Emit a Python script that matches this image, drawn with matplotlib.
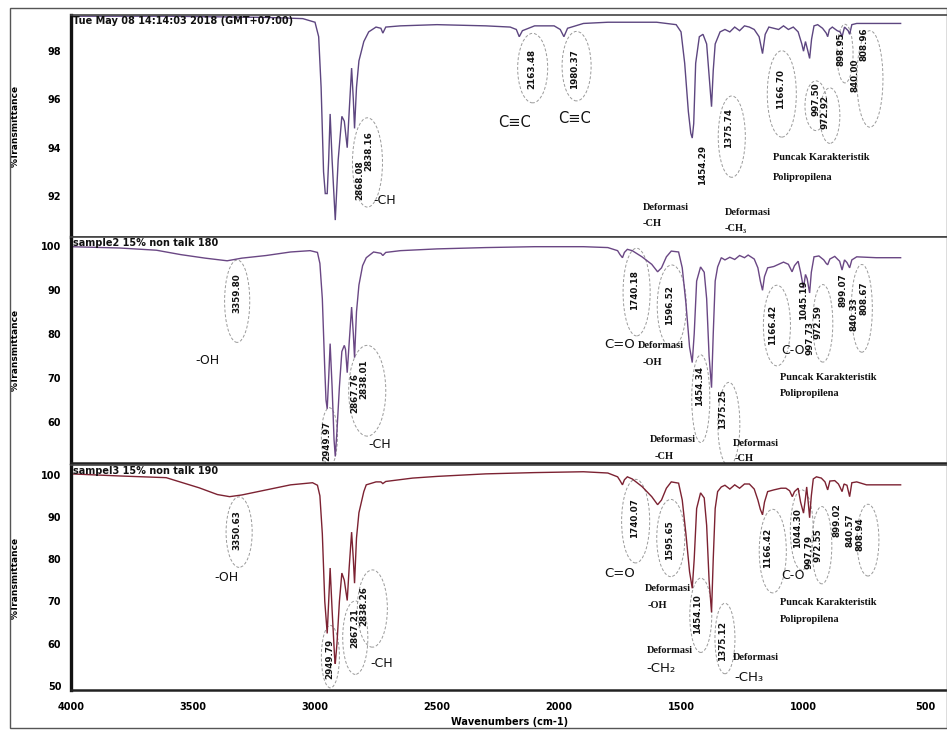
import matplotlib
matplotlib.use("Agg")
import matplotlib.pyplot as plt
from matplotlib.patches import Ellipse, Rectangle

# ---------------- data ----------------
top_wn = [4000, 3600, 3200, 3050, 3000, 2985, 2975, 2965, 2958, 2950, 2944, 2938, 2930, 2917, 2905,
          2890, 2880, 2868, 2860, 2850, 2843, 2838, 2830, 2820, 2800, 2780, 2750, 2730, 2722, 2710,
          2650, 2500, 2300, 2200, 2175, 2163, 2150, 2100, 2020, 1995, 1980, 1965, 1900, 1800, 1700,
          1600, 1520, 1500, 1485, 1470, 1460, 1454, 1448, 1440, 1425, 1410, 1395, 1385, 1375, 1368,
          1360, 1340, 1320, 1300, 1280, 1260, 1240, 1220, 1200, 1180, 1166, 1155, 1140, 1100, 1080,
          1060, 1040, 1020, 1005, 998, 990, 980, 973, 965, 955, 940, 920, 905, 899, 892,
          880, 860, 848, 840, 830, 815, 809, 800, 780, 700, 600]
top_T = [99.45, 99.45, 99.4, 99.35, 99.2, 98.6, 96.5, 93.0, 92.1, 92.1, 93.5, 95.4, 93.5, 91.0, 93.5,
         95.3, 95.1, 94.0, 95.5, 97.3, 96.0, 94.8, 96.5, 97.6, 98.4, 98.8, 99.0, 98.95, 98.75, 99.0,
         99.05, 99.1, 99.05, 99.0, 98.9, 98.6, 98.85, 99.05, 99.05, 98.9, 98.6, 98.95, 99.15, 99.2, 99.2,
         99.2, 99.1, 98.8, 97.5, 95.5, 94.6, 94.4, 95.0, 97.5, 98.6, 98.7, 98.3, 97.0, 95.7, 97.2,
         98.3, 98.8, 98.9, 98.8, 99.0, 98.85, 99.05, 99.0, 98.9, 98.6, 97.9, 98.7, 99.0, 98.9, 99.05,
         98.9, 99.0, 98.8, 98.3, 98.0, 98.4, 98.0, 97.7, 98.5, 99.05, 99.1, 98.95, 98.75, 98.6, 98.9,
         99.0, 98.85, 98.8, 98.6, 99.0, 98.85, 98.7, 99.1, 99.15, 99.15, 99.15]

mid_wn = [4000, 3800, 3650, 3550, 3450, 3360, 3300, 3200, 3100, 3020, 2990, 2980, 2970, 2960, 2955,
          2950, 2944, 2938, 2930, 2922, 2917, 2910, 2900, 2890, 2880, 2875, 2868, 2860, 2850, 2843,
          2838, 2830, 2820, 2805, 2790, 2760, 2730, 2722, 2710, 2650, 2500, 2300, 2100, 1900, 1800,
          1760, 1750, 1740, 1732, 1720, 1700, 1660, 1620, 1596, 1580, 1560, 1540, 1510, 1495, 1480,
          1465, 1454, 1446, 1436, 1420, 1405, 1395, 1385, 1375, 1368, 1360, 1350, 1335, 1320, 1300,
          1280, 1260, 1240, 1225, 1200, 1185, 1175, 1166, 1158, 1145, 1120, 1100, 1080, 1060, 1045,
          1035, 1020, 1010, 998, 990, 983, 973, 966, 955, 935, 915, 905, 899, 890, 870,
          850, 840, 830, 820, 809, 800, 780, 700, 600]
mid_T = [99.8, 99.5, 99.0, 98.0, 97.2, 96.6, 97.2, 97.8, 98.6, 98.9, 98.5, 96.0, 88.0, 72.0, 65.0,
         63.0, 70.0, 77.8, 68.0, 56.0, 52.2, 58.0, 68.0, 76.0, 77.4, 76.5, 71.2, 78.0, 86.1, 80.0,
         74.6, 85.0, 91.1, 95.5, 97.3, 98.6, 98.3, 97.8, 98.5, 98.9, 99.3, 99.6, 99.8, 99.8, 99.6,
         98.9, 98.0, 97.3, 98.5, 99.2, 98.9, 97.5, 95.8, 94.1, 95.0, 97.5, 98.8, 98.6, 95.0, 87.0,
         77.0, 73.5, 80.0, 92.0, 95.2, 94.0, 88.0, 75.0, 67.8, 80.0, 92.0, 95.2, 97.3, 96.8, 97.4,
         96.9, 97.8, 97.3, 97.9, 97.0, 95.0, 92.0, 89.9, 93.0, 95.0, 95.3, 95.8, 96.3, 95.8, 94.1,
         95.5, 96.5, 94.0, 90.4, 93.5, 92.5, 89.3, 94.0, 97.5, 97.7, 96.8, 96.0, 95.7, 97.0, 97.6,
         96.5, 94.5, 96.8, 96.2, 95.0, 96.8, 97.5, 97.3, 97.3]

bot_wn = [4000, 3800, 3610, 3475, 3400, 3350, 3300, 3200, 3100, 3010, 2990, 2980, 2970, 2960, 2950,
          2944, 2938, 2930, 2920, 2917, 2910, 2900, 2890, 2880, 2868, 2860, 2850, 2843, 2838, 2830,
          2820, 2800, 2790, 2750, 2730, 2722, 2710, 2600, 2500, 2300, 2100, 1900, 1800, 1760, 1750,
          1740, 1732, 1720, 1700, 1660, 1620, 1596, 1580, 1560, 1540, 1510, 1495, 1480, 1465, 1454,
          1446, 1436, 1420, 1405, 1395, 1385, 1375, 1368, 1360, 1350, 1335, 1320, 1300, 1280, 1260,
          1240, 1220, 1200, 1185, 1175, 1166, 1158, 1145, 1120, 1090, 1070, 1055, 1044, 1035, 1020,
          1010, 998, 990, 985, 978, 973, 966, 958, 945, 925, 910, 899, 890, 870, 855,
          848, 840, 832, 820, 809, 800, 780, 740, 600]
bot_T = [100.2, 99.7, 99.3, 96.9, 95.3, 94.8, 95.2, 96.4, 97.6, 98.1, 97.5, 95.0, 86.0, 70.0, 62.4,
         70.0, 77.9, 68.0, 57.0, 55.2, 60.0, 70.0, 76.7, 75.0, 70.2, 78.0, 86.4, 80.0, 74.3, 85.0,
         91.0, 96.0, 97.6, 98.3, 98.3, 97.9, 98.4, 99.2, 99.6, 100.2, 100.5, 100.7, 100.4, 99.5, 98.6,
         97.6, 98.8, 99.5, 99.0, 97.2, 94.8, 92.9, 94.0, 96.8, 98.3, 98.0, 94.0, 86.0, 77.0, 73.1,
         80.0, 92.0, 95.7, 94.5, 88.0, 75.0, 67.4, 80.0, 92.0, 96.0, 97.1, 97.5, 96.6, 97.6, 96.8,
         97.8, 97.8, 96.6, 94.0, 91.8, 90.5, 93.5, 96.0, 96.4, 96.8, 96.8, 96.2, 94.8, 96.0, 96.8,
         93.5, 90.9, 94.5, 97.1, 93.0, 89.8, 95.0, 99.0, 99.5, 99.2, 98.3, 96.4, 98.5, 98.6, 97.8,
         97.0, 96.0, 97.8, 97.5, 94.8, 98.1, 98.3, 97.6, 97.6]

panel_titles = ["Tue May 08 14:14:03 2018 (GMT+07:00)",
                "sample2 15% non talk 180",
                "sampel3 15% non talk 190"]
top_yticks = [92, 94, 96, 98]
mid_yticks = [60, 70, 80, 90, 100]
bot_yticks = [50, 60, 70, 80, 90, 100]
x_ticks = [4000, 3500, 3000, 2500, 2000, 1500, 1000, 500]

# ---------------- annotations (layout) ----------------
# rotated peak labels: (text, wn, T)
top_peaks = [("2868.08", 2818, 92.65), ("2838.16", 2781, 93.88), ("2163.48", 2113, 97.26),
             ("1980.37", 1936, 97.26), ("1454.29", 1411, 93.27), ("1375.74", 1304, 94.83),
             ("1166.70", 1091, 96.44), ("997.50", 948, 96.0), ("972.92", 908, 95.5),
             ("898.95", 843, 98.1), ("840.00", 788, 97.0), ("808.96", 752, 98.3)]
mid_peaks = [("3359.80", 3319, 89.26), ("2949.97", 2950, 55.66), ("2867.76", 2839, 66.6),
             ("2838.01", 2802, 69.8), ("1740.18", 1690, 89.94), ("1596.52", 1546, 86.5),
             ("1454.34", 1423, 68.23), ("1375.25", 1329, 62.97), ("1166.42", 1124, 81.94),
             ("1045.19", 1000, 87.66), ("997.73", 972, 79.0), ("972.59", 938, 82.6),
             ("899.07", 837, 89.94), ("840.33", 792, 84.5), ("808.67", 752, 88.1)]
bot_peaks = [("3350.63", 3319, 86.9), ("2949.79", 2941, 56.4), ("2867.21", 2839, 63.6),
             ("2838.26", 2802, 69.0), ("1740.07", 1690, 89.8), ("1595.65", 1546, 84.5),
             ("1454.10", 1431, 67.1), ("1375.12", 1329, 60.7), ("1166.42", 1144, 82.6),
             ("1044.30", 1021, 87.4), ("997.79", 975, 81.6), ("972.55", 940, 83.3),
             ("899.02", 861, 89.3), ("840.57", 808, 86.9), ("808.94", 768, 86.0)]

# group labels (sans): (text, wn, T, size)
top_groups = [("-CH", 2716, 91.83, 9), ("C≡C", 2182, 95.04, 10.5), ("C≡C", 1936, 95.2, 10.5)]
mid_groups = [("-OH", 3442, 73.94, 9), ("-CH", 2736, 54.97, 9), ("C=O", 1752, 77.6, 9.5),
              ("C-O", 1042, 76.2, 9)]
bot_groups = [("-OH", 3364, 75.7, 9), ("-CH", 2728, 55.2, 9), ("C=O", 1752, 76.7, 9.5),
              ("C-O", 1042, 76.2, 9)]

# left-aligned labels: (text, wn, T, size, family)
SANS = "DejaVu Sans"
SERIF = "Liberation Serif"
top_notes = [("Deformasi", 1657, 91.54, 7.5, SERIF), ("-CH", 1657, 90.88, 7.5, SERIF),
             ("Deformasi", 1321, 91.33, 7.5, SERIF), ("-CH₃", 1321, 90.67, 7.5, SERIF),
             ("Puncak Karakteristik", 1124, 93.6, 7.5, SERIF), ("Polipropilena", 1124, 92.77, 7.5, SERIF)]
mid_notes = [("Deformasi", 1678, 77.37, 7.5, SERIF), ("-OH", 1657, 73.5, 7.5, SERIF),
             ("Deformasi", 1628, 56.1, 7.5, SERIF), ("-CH", 1608, 52.2, 7.5, SERIF),
             ("Deformasi", 1288, 55.2, 7.5, SERIF), ("-CH", 1280, 51.8, 7.5, SERIF),
             ("Puncak Karakteristik", 1095, 70.06, 7.5, SERIF), ("Polipropilena", 1095, 66.4, 7.5, SERIF)]
bot_notes = [("Deformasi", 1649, 73.1, 7.5, SERIF), ("-OH", 1637, 69.0, 7.5, SERIF),
             ("Deformasi", 1641, 58.3, 7.5, SERIF), ("-CH₂", 1641, 54.0, 9.5, SANS),
             ("Deformasi", 1288, 56.7, 7.5, SERIF), ("-CH₃", 1280, 51.9, 9.5, SANS),
             ("Puncak Karakteristik", 1095, 69.8, 7.5, SERIF), ("Polipropilena", 1095, 65.7, 7.5, SERIF)]

# dashed ellipses: (wn, T, width_wn, height_T)
top_ell = [(2785, 93.39, 123, 3.7), (2108, 97.3, 123, 2.88), (1928, 97.38, 119, 2.88),
           (1292, 94.46, 111, 3.37), (1087, 96.23, 119, 3.58), (947, 95.74, 90, 2.06),
           (890, 95.33, 82, 2.3), (828, 97.9, 66, 2.43), (726, 96.85, 107, 4.0)]
mid_ell = [(3319, 87.43, 103, 18.7), (2941, 56.6, 66, 13.3), (2786, 67.1, 152, 20.6),
           (1682, 89.5, 111, 19.9), (1538, 86.3, 119, 18.7), (1419, 65.3, 74, 19.9),
           (1304, 59.5, 90, 19.0), (1107, 81.9, 111, 18.3), (919, 82.4, 82, 17.6),
           (759, 85.8, 86, 19.9)]
bot_ell = [(3311, 86.4, 107, 16.7), (2937, 56.9, 74, 14.8), (2835, 61.4, 103, 17.4),
           (2765, 68.3, 123, 18.3), (1686, 89.0, 115, 19.8), (1542, 85.0, 115, 18.3),
           (1419, 66.7, 90, 17.6), (1320, 61.2, 82, 16.7), (1124, 81.9, 111, 19.8),
           (1005, 86.9, 94, 19.0), (923, 83.3, 82, 18.3), (734, 84.5, 90, 17.0)]

# ---------------- figure ----------------
W, H = 947, 731
fig = plt.figure(figsize=(W / 100, H / 100), dpi=100)
fig.patch.set_facecolor("white")

def fy(px):
    return 1 - px / H

left = 71 / W
right = 1.0
boxes = [(15, 237), (237, 463), (465, 690)]
ylims = [(90.3, 99.5), (50.7, 102.0), (49.0, 102.3)]
series = [(top_wn, top_T, "#5d4680"), (mid_wn, mid_T, "#6a4784"), (bot_wn, bot_T, "#7c2232")]
yticks = [top_yticks, mid_yticks, bot_yticks]
peaks = [top_peaks, mid_peaks, bot_peaks]
groups = [top_groups, mid_groups, bot_groups]
notes = [top_notes, mid_notes, bot_notes]
ells = [top_ell, mid_ell, bot_ell]

for i in range(3):
    t, b = boxes[i]
    ax = fig.add_axes([left, fy(b), right - left, (b - t) / H])
    wn, T, col = series[i]
    ax.plot(wn, T, color=col, lw=1.0, solid_joinstyle="miter")
    ax.set_xlim(4000, 410)
    ax.set_ylim(*ylims[i])
    ax.set_yticks(yticks[i])
    ax.set_yticklabels([str(v) for v in yticks[i]], fontsize=7, fontweight="bold", family=SANS)
    ax.tick_params(axis="y", length=0, pad=7)
    ax.set_xticks(x_ticks)
    if i == 2:
        ax.set_xticklabels([str(v) for v in x_ticks], fontsize=7, fontweight="bold", family=SANS)
        ax.tick_params(axis="x", length=0, pad=9)
    else:
        ax.tick_params(axis="x", length=0, labelbottom=False)
    ax.spines["right"].set_visible(False)
    ax.spines["left"].set_linewidth(2.4)
    ax.spines["left"].set_color("#111111")
    ax.spines["bottom"].set_linewidth(1.8)
    ax.spines["bottom"].set_color("#222222")
    ax.spines["top"].set_linewidth(1.2)
    ax.spines["top"].set_color("#444444")
    ax.set_ylabel("%Transmittance", fontsize=6.5, fontweight="bold", family=SANS)
    ax.yaxis.set_label_coords(-0.058, 0.5)
    ax.text(0.002, 0.995, panel_titles[i], transform=ax.transAxes, fontsize=7,
            fontweight="bold", family=SANS, va="top", ha="left", color="#111111")
    for (txt, x, y) in peaks[i]:
        ax.text(x, y, txt, rotation=90, fontsize=6.3, fontweight="bold", family=SANS,
                ha="center", va="center", color="#111111")
    for (txt, x, y, s) in groups[i]:
        ax.text(x, y, txt, fontsize=s, family=SANS, ha="center", va="center", color="#111111")
    for (txt, x, y, s, fam) in notes[i]:
        ax.text(x, y, txt, fontsize=s, family=fam,
                fontweight="bold" if fam == SERIF else "normal", ha="left",
                va="center", color="#111111")
    for (x, y, w, h) in ells[i]:
        ax.add_patch(Ellipse((x, y), w, h, fill=False, ls=(0, (3, 2)), lw=0.7,
                             edgecolor="#9a9a9a"))

fig.text(510 / W, fy(722), "Wavenumbers (cm-1)", fontsize=7, fontweight="bold",
         family=SANS, ha="center", va="center")
fig.patches.append(Rectangle((10 / W, fy(728)), (W - 10) / W, (728 - 8) / H,
                             transform=fig.transFigure, fill=False, lw=1.0,
                             edgecolor="#555555"))

fig.savefig("out.png", dpi=100)
